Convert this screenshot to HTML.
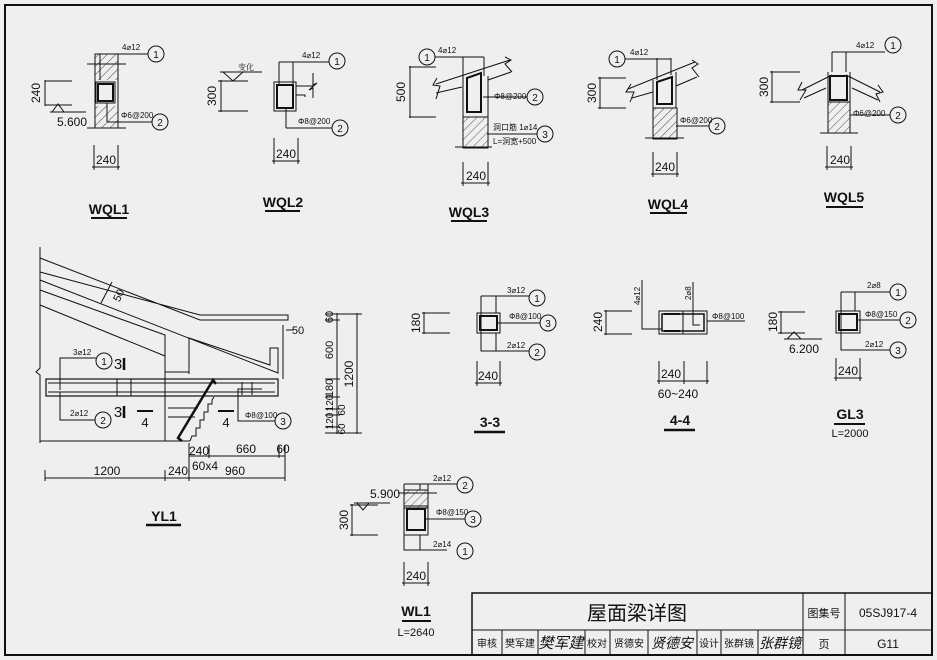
<!DOCTYPE html>
<html><head><meta charset="utf-8"><style>
html,body{margin:0;padding:0;background:#efefef;}
svg{display:block;}
text{font-family:"Liberation Sans","Noto Sans CJK SC",sans-serif;fill:#111;}
.t{font-size:10px;}
.s{font-size:8px;}
.c{font-family:"Liberation Serif","Noto Serif CJK SC",serif;}
</style></head><body>
<svg width="937" height="660" viewBox="0 0 937 660" xmlns="http://www.w3.org/2000/svg">
<defs>
<pattern id="h" width="6" height="6" patternUnits="userSpaceOnUse" patternTransform="rotate(45)">
<line x1="0" y1="0" x2="0" y2="6" stroke="#222" stroke-width="0.8"/></pattern>
</defs>
<rect width="937" height="660" fill="#efefef"/>
<g fill="none" stroke="#111" stroke-width="1">
<rect x="5" y="5" width="927" height="650" stroke-width="2"/>
<rect x="472" y="593" width="460" height="62" stroke-width="1.5"/>
<line x1="472" y1="630" x2="932" y2="630"/>
<line x1="803" y1="593" x2="803" y2="655"/>
<line x1="845" y1="593" x2="845" y2="655"/>
<line x1="502" y1="630" x2="502" y2="655"/>
<line x1="538" y1="630" x2="538" y2="655"/>
<line x1="585" y1="630" x2="585" y2="655"/>
<line x1="610" y1="630" x2="610" y2="655"/>
<line x1="648" y1="630" x2="648" y2="655"/>
<line x1="697" y1="630" x2="697" y2="655"/>
<line x1="721" y1="630" x2="721" y2="655"/>
<line x1="758" y1="630" x2="758" y2="655"/>

<!-- WQL1 -->
<rect x="95" y="54" width="23" height="74" fill="url(#h)"/>
<rect x="95" y="80" width="23" height="26" fill="#efefef" stroke="none"/>
<line x1="95" y1="54" x2="95" y2="128"/><line x1="118" y1="54" x2="118" y2="128"/>
<line x1="87" y1="64" x2="126" y2="64"/><line x1="87" y1="128" x2="126" y2="128"/>
<rect x="96" y="82" width="19" height="21"/>
<rect x="98" y="84" width="15" height="17" stroke-width="2"/>
<line x1="100" y1="54" x2="100" y2="80"/><line x1="100" y1="54" x2="148" y2="54"/>
<circle cx="156" cy="54" r="8"/>
<line x1="107" y1="103" x2="107" y2="122"/><line x1="107" y1="122" x2="152" y2="122"/>
<circle cx="160" cy="122" r="8"/>
<line x1="45" y1="81" x2="72" y2="81"/><line x1="45" y1="105" x2="72" y2="105"/>
<line x1="45" y1="80" x2="45" y2="106"/>
<path d="M52 112 L58 104 L64 112 Z"/><line x1="50" y1="112" x2="86" y2="112"/>
<line x1="94" y1="145" x2="94" y2="170"/><line x1="118" y1="145" x2="118" y2="170"/><line x1="92" y1="167" x2="120" y2="167"/>
<line x1="91" y1="218" x2="127" y2="218" stroke-width="2"/>

<!-- WQL2 -->
<rect x="274" y="82" width="22" height="29"/>
<rect x="277" y="85" width="16" height="23" stroke-width="2"/>
<path d="M296 86 L313 86 M296 95 L305 95 L305 97 M313 73 L313 85 L317 83 L309 90 L313 88 L313 98"/>
<line x1="279" y1="62" x2="279" y2="84"/><line x1="279" y1="62" x2="329" y2="62"/><line x1="293" y1="62" x2="293" y2="84"/>
<circle cx="337" cy="61" r="8"/>
<line x1="286" y1="108" x2="286" y2="128"/><line x1="286" y1="128" x2="332" y2="128"/>
<circle cx="340" cy="128" r="8"/>
<path d="M223 72 L233 81 L243 72 Z"/><line x1="220" y1="72" x2="262" y2="72"/>
<line x1="218" y1="81" x2="248" y2="81"/><line x1="218" y1="111" x2="248" y2="111"/><line x1="221" y1="80" x2="221" y2="112"/>
<line x1="274" y1="138" x2="274" y2="164"/><line x1="298" y1="138" x2="298" y2="164"/><line x1="272" y1="161" x2="300" y2="161"/>
<line x1="265" y1="211" x2="300" y2="211" stroke-width="2"/>

<!-- WQL3 -->
<rect x="463" y="117" width="25" height="31" fill="url(#h)"/>
<line x1="455" y1="147" x2="492" y2="147"/>
<path d="M463 57 L463 117 M484 57 L484 76 M488 76 L488 117"/>
<path d="M436 84 L510 60 M436 93 L462 87 M488 80 L511 72 M437 78 L433 85 L440 86 L436 99 M505 57 L511 60 L505 64 L512 72"/>
<path d="M467 78 L481 73 L481 112 L467 112 Z" stroke-width="2"/>
<line x1="435" y1="57" x2="484" y2="57"/><circle cx="427" cy="57" r="8"/>
<line x1="483" y1="97" x2="527" y2="97"/><circle cx="535" cy="97" r="8"/>
<line x1="487" y1="134" x2="537" y2="134"/><circle cx="545" cy="134" r="8"/>
<line x1="409" y1="67" x2="436" y2="67"/><line x1="409" y1="117" x2="436" y2="117"/><line x1="410" y1="66" x2="410" y2="118"/>
<line x1="463" y1="162" x2="463" y2="186"/><line x1="488" y1="162" x2="488" y2="186"/><line x1="461" y1="183" x2="490" y2="183"/>
<line x1="451" y1="221" x2="487" y2="221" stroke-width="2"/>

<!-- WQL4 -->
<rect x="653" y="108" width="24" height="31" fill="url(#h)"/>
<line x1="645" y1="138" x2="684" y2="138"/>
<path d="M657 58 L657 80 M671 58 L671 75 M653 80 L653 108 M676 72 L676 108"/>
<path d="M628 89 L695 62 M632 98 L653 92 M676 86 L697 77 M631 84 L626 92 L634 92 L630 102 M692 60 L698 64 L692 68 L699 77"/>
<path d="M657 82 L672 77 L672 104 L657 104 Z" stroke-width="2"/>
<line x1="625" y1="59" x2="671" y2="59"/><circle cx="617" cy="59" r="8"/>
<line x1="676" y1="126" x2="709" y2="126"/><circle cx="717" cy="126" r="8"/>
<line x1="598" y1="78" x2="626" y2="78"/><line x1="598" y1="108" x2="626" y2="108"/><line x1="600" y1="77" x2="600" y2="109"/>
<line x1="653" y1="152" x2="653" y2="177"/><line x1="677" y1="152" x2="677" y2="177"/><line x1="651" y1="174" x2="679" y2="174"/>
<line x1="650" y1="213" x2="687" y2="213" stroke-width="2"/>

<!-- WQL5 -->
<rect x="828" y="102" width="22" height="31" fill="url(#h)"/>
<line x1="820" y1="133" x2="858" y2="133"/>
<path d="M832 52 L832 72 M846 52 L846 72 M828 72 L828 102 M850 72 L850 102"/>
<path d="M802 90 L832 75 M846 75 L880 92 M804 98 L826 88 M852 88 L878 100 M802 82 L798 90 L806 90 L800 100 M878 85 L883 92 L876 94 L880 102"/>
<rect x="830" y="76" width="17" height="24" stroke-width="2"/>
<line x1="832" y1="52" x2="885" y2="52"/><circle cx="893" cy="45" r="8"/>
<line x1="850" y1="115" x2="890" y2="115"/><circle cx="898" cy="115" r="8"/>
<line x1="770" y1="72" x2="800" y2="72"/><line x1="770" y1="102" x2="800" y2="102"/><line x1="772" y1="71" x2="772" y2="103"/>
<line x1="827" y1="146" x2="827" y2="170"/><line x1="851" y1="146" x2="851" y2="170"/><line x1="825" y1="167" x2="853" y2="167"/>
<line x1="826" y1="207" x2="863" y2="207" stroke-width="2"/>

<!-- YL1 -->
<path d="M40 247 L40 368 L36 372 L40 375 L40 443"/>
<path d="M40 258 L200 320 L288 320 L288 315 L200 315 M40 272 L200 315"/>
<path d="M40 280 L278 373 L278 348 L270 348 L270 365 L189 338 L189 374"/>
<path d="M40 290 L165 335 L165 441 M40 305 L165 356"/>
<line x1="283" y1="325" x2="283" y2="379"/>
<path d="M165 372 L189 372"/>
<rect x="46" y="379" width="232" height="17" stroke-width="1.2"/>
<line x1="48" y1="383" x2="275" y2="383"/><line x1="48" y1="392" x2="275" y2="392"/>
<line x1="117" y1="379" x2="117" y2="396"/><line x1="131" y1="379" x2="131" y2="396"/>
<line x1="242" y1="382" x2="242" y2="395"/><line x1="252" y1="382" x2="252" y2="395"/><line x1="238" y1="389" x2="262" y2="389"/>
<line x1="40" y1="441" x2="190" y2="441"/>
<path d="M168 408 L198 408 M168 417 L195 417 M214 397 L212 400 L212 404 L208 404 L208 412 L204 412 L204 420 L200 420 L200 428 L196 428 L196 436 L192 436 L190 441"/>
<path d="M216 384 L213 380 L178 438 L182 441" stroke-width="2.5"/>
<line x1="124" y1="358" x2="124" y2="370" stroke-width="2.5"/>
<line x1="124" y1="406" x2="124" y2="418" stroke-width="2.5"/>
<line x1="137" y1="411" x2="153" y2="411" stroke-width="2"/>
<line x1="218" y1="411" x2="234" y2="411" stroke-width="2"/>
<path d="M60 390 L60 358 L96 358"/><circle cx="104" cy="361" r="8"/>
<path d="M60 392 L60 420 L95 420"/><circle cx="103" cy="420" r="8"/>
<path d="M244 389 L238 389 L238 421 L275 421"/><circle cx="283" cy="421" r="8"/>
<line x1="101" y1="303" x2="112" y2="282"/>
<line x1="286" y1="330" x2="294" y2="330"/>
<line x1="189" y1="456" x2="285" y2="456"/>
<line x1="189" y1="443" x2="189" y2="481"/><line x1="209" y1="445" x2="209" y2="458"/><line x1="279" y1="445" x2="279" y2="458"/><line x1="285" y1="445" x2="285" y2="481"/>
<line x1="45" y1="478" x2="285" y2="478"/>
<line x1="45" y1="470" x2="45" y2="481"/><line x1="165" y1="470" x2="165" y2="481"/>
<line x1="337" y1="313" x2="337" y2="434"/><line x1="357" y1="313" x2="357" y2="434"/>
<path d="M325 314 L362 314 M325 320 L340 320 M325 379 L340 379 M325 397 L340 397 M325 409 L340 409 M325 415 L340 415 M325 427 L340 427 M325 433 L362 433"/>
<line x1="146" y1="525" x2="181" y2="525" stroke-width="2.5"/>

<!-- 3-3 -->
<rect x="477" y="313" width="23" height="20"/>
<rect x="480" y="316" width="17" height="14" stroke-width="2"/>
<path d="M481 296 L481 351 L529 351 M496 296 L496 313 M481 296 L529 296 M496 333 L496 351"/>
<circle cx="537" cy="298" r="8"/>
<line x1="497" y1="323" x2="540" y2="323"/><circle cx="548" cy="323" r="8"/>
<circle cx="537" cy="352" r="8"/>
<line x1="422" y1="313" x2="450" y2="313"/><line x1="422" y1="333" x2="450" y2="333"/><line x1="424" y1="312" x2="424" y2="334"/>
<line x1="477" y1="361" x2="477" y2="386"/><line x1="500" y1="361" x2="500" y2="386"/><line x1="475" y1="383" x2="502" y2="383"/>
<line x1="474" y1="432" x2="505" y2="432" stroke-width="2.5"/>

<!-- 4-4 -->
<rect x="659" y="311" width="48" height="23"/>
<rect x="662" y="314" width="42" height="17" stroke-width="1.5"/>
<line x1="664" y1="314" x2="680" y2="314" stroke-width="2"/><line x1="664" y1="331" x2="680" y2="331" stroke-width="2"/>
<line x1="683" y1="311" x2="683" y2="334"/>
<path d="M642 280 L642 329 L662 329 M693 282 L693 325 L700 325"/>
<line x1="707" y1="321" x2="745" y2="321"/>
<line x1="604" y1="311" x2="632" y2="311"/><line x1="604" y1="334" x2="632" y2="334"/><line x1="606" y1="310" x2="606" y2="335"/>
<line x1="659" y1="361" x2="659" y2="384"/><line x1="684" y1="361" x2="684" y2="384"/><line x1="707" y1="361" x2="707" y2="384"/><line x1="657" y1="381" x2="709" y2="381"/>
<line x1="664" y1="430" x2="695" y2="430" stroke-width="2.5"/>

<!-- GL3 -->
<rect x="836" y="311" width="24" height="22"/>
<rect x="839" y="314" width="18" height="16" stroke-width="2"/>
<path d="M841 292 L841 350 L890 350 M855 292 L855 311 M841 292 L890 292"/>
<circle cx="898" cy="292" r="8"/>
<line x1="858" y1="320" x2="900" y2="320"/><circle cx="908" cy="320" r="8"/>
<circle cx="898" cy="350" r="8"/>
<line x1="778" y1="312" x2="805" y2="312"/><line x1="778" y1="333" x2="805" y2="333"/><line x1="781" y1="311" x2="781" y2="334"/>
<path d="M787 339 L794 332 L801 339 Z"/><line x1="784" y1="339" x2="822" y2="339"/>
<line x1="836" y1="358" x2="836" y2="381"/><line x1="860" y1="358" x2="860" y2="381"/><line x1="834" y1="378" x2="862" y2="378"/>
<line x1="834" y1="424" x2="865" y2="424" stroke-width="2"/>

<!-- WL1 -->
<rect x="404" y="490" width="24" height="18" fill="url(#h)"/>
<path d="M404 484 L428 484 M404 484 L404 550 L447 550 M428 484 L428 535 M420 484 L420 490 M420 535 L420 550"/>
<line x1="398" y1="493" x2="437" y2="493"/>
<rect x="404" y="506" width="24" height="29"/>
<rect x="407" y="509" width="18" height="21" stroke-width="2"/>
<line x1="428" y1="484" x2="457" y2="484"/><circle cx="465" cy="485" r="8"/>
<line x1="425" y1="519" x2="465" y2="519"/><circle cx="473" cy="519" r="8"/>
<circle cx="465" cy="551" r="8"/>
<path d="M357 503 L363 510 L369 503 Z"/><line x1="354" y1="503" x2="390" y2="503"/>
<line x1="350" y1="505" x2="378" y2="505"/><line x1="350" y1="535" x2="378" y2="535"/><line x1="352" y1="504" x2="352" y2="536"/>
<line x1="404" y1="562" x2="404" y2="586"/><line x1="428" y1="562" x2="428" y2="586"/><line x1="402" y1="583" x2="430" y2="583"/>
<line x1="402" y1="621" x2="431" y2="621" stroke-width="2"/>
</g>

<g class="t" text-anchor="middle">
<text x="156" y="58">1</text><text x="160" y="126">2</text>
<text x="337" y="65">1</text><text x="340" y="132">2</text>
<text x="427" y="61">1</text><text x="535" y="101">2</text><text x="545" y="138">3</text>
<text x="617" y="63">1</text><text x="717" y="130">2</text>
<text x="893" y="49">1</text><text x="898" y="119">2</text>
<text x="104" y="365">1</text><text x="103" y="424">2</text><text x="283" y="425">3</text>
<text x="537" y="302">1</text><text x="548" y="327">3</text><text x="537" y="356">2</text>
<text x="898" y="296">1</text><text x="908" y="324">2</text><text x="898" y="354">3</text>
<text x="465" y="489">2</text><text x="473" y="523">3</text><text x="465" y="555">1</text>
</g>
<g class="s">
<text x="122" y="50">4⌀12</text><text x="121" y="118">Φ6@200</text>
<text x="302" y="58">4⌀12</text><text x="298" y="124">Φ8@200</text>
<text x="238" y="70" class="c">变化</text>
<text x="438" y="53">4⌀12</text><text x="494" y="99">Φ8@200</text>
<text x="493" y="130">洞口筋 1⌀14</text><text x="493" y="144">L=洞宽+500</text>
<text x="630" y="55">4⌀12</text><text x="680" y="123">Φ6@200</text>
<text x="856" y="48">4⌀12</text><text x="853" y="116">Φ6@200</text>
<text x="73" y="355">3⌀12</text><text x="70" y="416">2⌀12</text><text x="245" y="418">Φ8@100</text>
<text x="507" y="293">3⌀12</text><text x="509" y="319">Φ8@100</text><text x="507" y="348">2⌀12</text>
<text x="712" y="319">Φ8@100</text>
<text transform="translate(640,305) rotate(-90)">4⌀12</text>
<text transform="translate(691,300) rotate(-90)">2⌀8</text>
<text x="867" y="288">2⌀8</text><text x="865" y="317">Φ8@150</text><text x="865" y="347">2⌀12</text>
<text x="433" y="481">2⌀12</text><text x="436" y="515">Φ8@150</text><text x="433" y="547">2⌀14</text>
</g>
<g font-size="12" text-anchor="middle">
<text x="106" y="164">240</text><text x="286" y="158">240</text><text x="476" y="180">240</text><text x="665" y="171">240</text><text x="840" y="164">240</text>
<text x="488" y="380">240</text><text x="671" y="378">240</text><text x="678" y="398">60~240</text><text x="848" y="375">240</text>
<text x="416" y="580">240</text>
<text x="72" y="126">5.600</text><text x="804" y="353">6.200</text><text x="385" y="498">5.900</text>
<text x="199" y="455">240</text><text x="246" y="453">660</text><text x="283" y="453">60</text>
<text x="107" y="475">1200</text><text x="178" y="475">240</text><text x="235" y="475">960</text>
<text x="205" y="470">60x4</text>
<text x="298" y="334" font-size="11">50</text>
<text transform="translate(40,93) rotate(-90)">240</text>
<text transform="translate(216,96) rotate(-90)">300</text>
<text transform="translate(405,92) rotate(-90)">500</text>
<text transform="translate(596,93) rotate(-90)">300</text>
<text transform="translate(768,87) rotate(-90)">300</text>
<text transform="translate(420,323) rotate(-90)">180</text>
<text transform="translate(602,322) rotate(-90)">240</text>
<text transform="translate(777,322) rotate(-90)">180</text>
<text transform="translate(348,520) rotate(-90)">300</text>
<text transform="translate(122,297) rotate(-64)" font-size="11">50</text>
<text transform="translate(333,317) rotate(-90)" font-size="11">60</text>
<text transform="translate(333,350) rotate(-90)" font-size="11">600</text>
<text transform="translate(333,388) rotate(-90)" font-size="11">180</text>
<text transform="translate(333,403) rotate(-90)" font-size="10">120</text>
<text transform="translate(333,421) rotate(-90)" font-size="10">120</text>
<text transform="translate(345,410) rotate(-90)" font-size="10">60</text>
<text transform="translate(345,429) rotate(-90)" font-size="10">60</text>
<text transform="translate(353,374) rotate(-90)">1200</text>
</g>
<g font-size="14" font-weight="bold" text-anchor="middle">
<text x="109" y="214">WQL1</text><text x="283" y="207">WQL2</text><text x="469" y="217">WQL3</text>
<text x="668" y="209">WQL4</text><text x="844" y="202">WQL5</text>
<text x="164" y="521">YL1</text><text x="490" y="427">3-3</text><text x="680" y="425">4-4</text>
<text x="850" y="419">GL3</text><text x="416" y="616">WL1</text>
<text x="118" y="369" font-weight="normal" font-size="15">3</text>
<text x="118" y="417" font-weight="normal" font-size="15">3</text>
<text x="145" y="427" font-weight="normal" font-size="13">4</text>
<text x="226" y="427" font-weight="normal" font-size="13">4</text>
</g>
<g class="c" text-anchor="middle" font-size="11">
<text x="850" y="437">L=2000</text><text x="416" y="636">L=2640</text>
</g>
<g class="c" text-anchor="middle">
<text x="637" y="620" font-size="20" font-family="Noto Sans CJK SC,sans-serif">屋面梁详图</text>
<text x="824" y="617" font-size="11">图集号</text>
<text x="888" y="617" font-size="12">05SJ917-4</text>
<text x="824" y="648" font-size="11">页</text>
<text x="888" y="648" font-size="12">G11</text>
<text x="487" y="647" font-size="10">审核</text>
<text x="520" y="647" font-size="10">樊军建</text>
<text x="561" y="648" font-size="15" font-style="italic">樊军建</text>
<text x="597" y="647" font-size="10">校对</text>
<text x="629" y="647" font-size="10">贤德安</text>
<text x="672" y="648" font-size="14" font-style="italic">贤德安</text>
<text x="709" y="647" font-size="10">设计</text>
<text x="739" y="647" font-size="10">张群镜</text>
<text x="780" y="648" font-size="14" font-style="italic">张群镜</text>
</g>
</svg>
</body></html>
